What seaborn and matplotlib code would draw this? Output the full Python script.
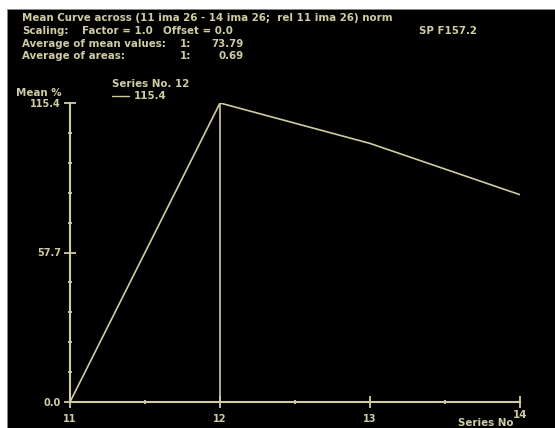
import pandas as pd
import seaborn as sns
import matplotlib.pyplot as plt
from matplotlib.patches import Rectangle
from matplotlib.ticker import FixedLocator, MultipleLocator

series_no = [11, 12, 13, 14]
mean_pct = [0.0, 115.4, 99.8, 80.0]
cursor_series = 12
cursor_value = 115.4
ymax = 115.4

header = [
    "Mean Curve across (11 ima 26 - 14 ima 26;  rel 11 ima 26) norm",
    "Scaling:",
    "Average of mean values:",
    "Average of areas:",
]
avg_mean = "73.79"
avg_area = "0.69"

fg = "#cfcca3"
W, H = 555, 428

sns.set_theme(style="ticks")
plt.rcParams["font.family"] = ["DejaVu Sans"]
plt.rcParams["font.weight"] = "bold"

fig = plt.figure(figsize=(W / 100, H / 100), dpi=100, facecolor="white")
fig.patches.append(Rectangle((7 / W, 0), 1 - 7 / W, 1 - 9 / H, transform=fig.transFigure,
                             facecolor="black", edgecolor="#888888", lw=0.6, zorder=-10))

ax = fig.add_axes([70 / W, 26 / H, 450 / W, 299 / H])
ax.set_facecolor("black")
ax.patch.set_alpha(0)

df = pd.DataFrame({"series": series_no, "mean": mean_pct})
sns.lineplot(data=df, x="series", y="mean", color=fg, lw=1.2, ax=ax)
ax.vlines(cursor_series, 0, cursor_value, color=fg, lw=1.2)

ax.set_xlim(11, 14)
ax.set_ylim(0, ymax)
ax.xaxis.set_major_locator(FixedLocator([11, 12, 13, 14]))
ax.xaxis.set_minor_locator(MultipleLocator(0.5))
ax.yaxis.set_major_locator(FixedLocator([0, ymax / 2, ymax]))
ax.yaxis.set_minor_locator(MultipleLocator(ymax / 10))
ax.set_xticklabels(["11", "12", "13", ""])
ax.set_yticklabels(["0.0", "57.7", "115.4"])
ax.set_xlabel("")
ax.set_ylabel("")

for side in ["top", "right"]:
    ax.spines[side].set_visible(False)
for side in ["left", "bottom"]:
    ax.spines[side].set_color(fg)
    ax.spines[side].set_linewidth(1.5)
ax.tick_params(which="major", direction="inout", length=9, width=1.3, color=fg,
               labelcolor=fg, labelsize=7, pad=2)
ax.tick_params(which="minor", direction="inout", length=3, width=1.3, color=fg)
ax.tick_params(axis="x", which="major", pad=4)

def put(x, y, s, ha="left"):
    fig.text(x / W, 1 - y / H, s, color=fg, fontsize=7.4, ha=ha, va="center")

put(22, 18, header[0])
put(22, 31, header[1])
put(82, 31, "Factor = 1.0")
put(163, 31, "Offset = 0.0")
put(419, 31, "SP F157.2")
put(22, 44, header[2])
put(22, 56, header[3])
put(180, 44, "1:")
put(180, 56, "1:")
put(244, 44, avg_mean, ha="right")
put(244, 56, avg_area, ha="right")
put(16, 93, "Mean %")
put(112, 84, "Series No. 12")
fig.lines.append(plt.Line2D([112 / W, 129 / W], [1 - 96 / H, 1 - 96 / H],
                            transform=fig.transFigure, color=fg, lw=1))
put(134, 96, "115.4")
put(520, 415, "14", ha="center")
fig.text(458 / W, 0, "Series No", color=fg, fontsize=7.4, ha="left", va="bottom")

fig.savefig("out.png", dpi=100, facecolor="white")
